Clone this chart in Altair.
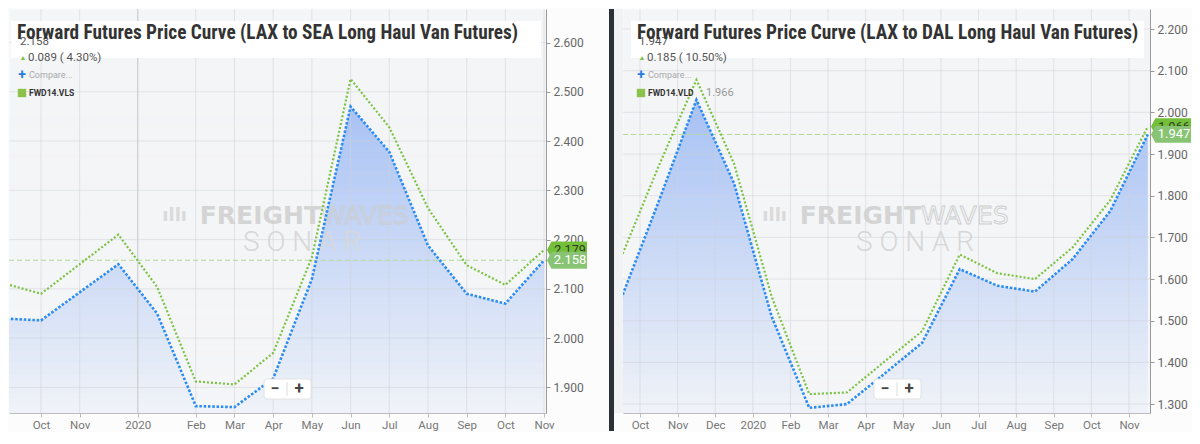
import json
import altair as alt
import pandas as pd

# ---------------- data ----------------
left_idx = [0, 1, 3, 4, 5, 6, 7, 8, 9, 10, 11, 12, 13, 14]
left_green = [2.112, 2.090, 2.210, 2.104, 1.912, 1.906, 1.970, 2.164, 2.526, 2.428, 2.264, 2.148, 2.108, 2.179]
left_blue = [2.040, 2.036, 2.150, 2.050, 1.862, 1.860, 1.918, 2.120, 2.470, 2.378, 2.188, 2.090, 2.070, 2.158]
left_tick_pos = [1, 2, 3.5, 5, 6, 7, 8, 9, 10, 11, 12, 13, 14]
left_tick_lbl = ["Oct", "Nov", "2020", "Feb", "Mar", "Apr", "May", "Jun", "Jul", "Aug", "Sep", "Oct", "Nov"]
left_y_ticks = [1.9, 2.0, 2.1, 2.2, 2.3, 2.4, 2.5, 2.6]

right_idx = [0.5, 1.5, 2.5, 3.5, 4.5, 5.5, 6.5, 7.5, 8.5, 9.5, 10.5, 11.5, 12.5, 13.5, 14.5]
right_green = [1.652, 1.872, 2.078, 1.877, 1.558, 1.324, 1.328, 1.402, 1.475, 1.659, 1.614, 1.600, 1.676, 1.789, 1.966]
right_blue = [1.553, 1.787, 2.030, 1.830, 1.510, 1.291, 1.300, 1.373, 1.447, 1.624, 1.584, 1.570, 1.648, 1.763, 1.947]
right_tick_pos = [1, 2, 3, 4, 5, 6, 7, 8, 9, 10, 11, 12, 13, 14]
right_tick_lbl = ["Oct", "Nov", "Dec", "2020", "Feb", "Mar", "Apr", "May", "Jun", "Jul", "Aug", "Sep", "Oct", "Nov"]
right_y_ticks = [1.3, 1.4, 1.5, 1.6, 1.7, 1.8, 1.9, 2.0, 2.1, 2.2]

left_title = "Forward Futures Price Curve (LAX to SEA Long Haul Van Futures)"
right_title = "Forward Futures Price Curve (LAX to DAL Long Haul Van Futures)"
left_info = {"last": "2.158", "chg": "0.089 ( 4.30%)", "sym": "FWD14.VLS", "symval": ""}
right_info = {"last": "1.947", "chg": "0.185 ( 10.50%)", "sym": "FWD14.VLD", "symval": "1.966"}

GREEN = "#7cc242"
BLUE = "#2a8cf2"
BG = "#f4f5f7"
H = 404
TITLE_FONT = "'Liberation Sans Narrow', 'Roboto Condensed', 'DejaVu Sans Condensed', Roboto"

one = pd.DataFrame({"k": [0]})


def fade_bands(ydom):
    """Background-coloured overlay strips that fade the area fill towards the bottom (styling only)."""
    lo, hi = ydom
    rows = []
    step = 6
    for py in range(84, H, step):
        mid = py + step / 2
        a = min(max((mid - 92) / 330.0, 0.0), 0.93)
        rows.append({"v": hi - py / H * (hi - lo), "v2": hi - min(py + step, H) / H * (hi - lo), "a": a})
    return pd.DataFrame(rows)


def panel(W, xdom, ydom, idx, green, blue, tpos, tlbl, yticks, title, info, off, year_rule=None, sep=False):
    lbl_expr = f"{json.dumps(tlbl)}[indexof({json.dumps(tpos)}, datum.value)]"
    X = alt.X("x:Q", scale=alt.Scale(domain=xdom, nice=False, zero=False),
              axis=alt.Axis(values=tpos, labelExpr=lbl_expr, title="", grid=False,
                            domainColor="#bdbdbd", tickColor="#bdbdbd", tickSize=4, labelColor="#777",
                            labelFontSize=11.5, labelFont="Roboto", labelPadding=2, labelFlush=False,
                            labelOverlap=False))
    Y = alt.Y("v:Q", scale=alt.Scale(domain=ydom, nice=False, zero=False),
              axis=alt.Axis(orient="right", values=yticks, format=".3f", title="", grid=False,
                            domainColor="#9a9a9a", tickColor="#9a9a9a", tickSize=4,
                            labelColor="#666", labelFontSize=12, labelFont="Roboto", labelPadding=3))
    dg = pd.DataFrame({"x": idx, "v": green})
    db = pd.DataFrame({"x": idx, "v": blue})
    layers = []
    if sep:
        layers.append(alt.Chart(one).mark_rect(color="#f1f2f3").encode(
            x=alt.value(-9), x2=alt.value(0), y=alt.value(0), y2=alt.value(H)))
        layers.append(alt.Chart(one).mark_rect(color="#2b3136").encode(
            x=alt.value(-14), x2=alt.value(-9), y=alt.value(0), y2=alt.value(H + 18)))
    # area under the blue curve, faded towards the bottom
    layers.append(alt.Chart(db).mark_area(clip=True, color="#a8c2f5", opacity=1)
                  .encode(x=X, y=Y, y2=alt.value(H)))
    layers.append(alt.Chart(fade_bands(ydom)).mark_rect(color=BG)
                  .encode(y=Y, y2=alt.Y2("v2:Q"), x=alt.value(0), x2=alt.value(W),
                          opacity=alt.Opacity("a:Q", scale=None, legend=None)))
    # grid lines
    layers.append(alt.Chart(pd.DataFrame({"x": tpos})).mark_rule(color="#cfd2d8", opacity=0.55, strokeWidth=1)
                  .encode(x=X))
    layers.append(alt.Chart(pd.DataFrame({"v": yticks})).mark_rule(color="#cfd2d8", opacity=0.5, strokeWidth=1)
                  .encode(y=Y, x=alt.value(0), x2=alt.value(W)))
    if year_rule is not None:
        layers.append(alt.Chart(pd.DataFrame({"x": [year_rule]})).mark_rule(color="#cdcdcd", strokeWidth=1)
                      .encode(x=X))
    # watermark
    wx, sx = off["wm"], off["sonar"]
    layers.append(alt.Chart(one).mark_text(text="FREIGHT", align="right", baseline="middle", font="DejaVu Sans",
                                           fontWeight="bold", fontSize=25, color="#d4d4d4")
                  .encode(x=alt.value(wx), y=alt.value(207)))
    layers.append(alt.Chart(one).mark_text(text="WAVES", align="left", baseline="middle", font="DejaVu Sans",
                                           fontSize=25, fill="rgba(0,0,0,0)", stroke="#cdcdcd", strokeWidth=0.9)
                  .encode(x=alt.value(wx), y=alt.value(207)))
    layers.append(alt.Chart(one).mark_text(text="ıllı", align="right", baseline="middle", font="DejaVu Sans",
                                           fontWeight="bold", fontSize=18, color="#dadada")
                  .encode(x=alt.value(wx - 134), y=alt.value(207)))
    layers.append(alt.Chart(one).mark_text(text="S O N A R", align="center", baseline="middle", font="Roboto",
                                           fontWeight=300, fontSize=28, color="#d7d7d7")
                  .encode(x=alt.value(sx), y=alt.value(234)))
    # reference dashed line at last value
    layers.append(alt.Chart(pd.DataFrame({"v": [blue[-1]]})).mark_rule(color="#b3db9c", strokeDash=[5, 3],
                                                                        strokeWidth=1)
                  .encode(y=Y, x=alt.value(0), x2=alt.value(W)))
    # lines
    layers.append(alt.Chart(dg).mark_line(clip=True, color=GREEN, strokeWidth=2.2, strokeDash=[2, 2])
                  .encode(x=X, y=Y))
    layers.append(alt.Chart(db).mark_line(clip=True, color=BLUE, strokeWidth=2.6, strokeDash=[2.5, 1.8])
                  .encode(x=X, y=Y))
    # end tags
    tag = "M-1,0L-0.78,-0.42L1,-0.42L1,0.42L-0.78,0.42Z"
    layers.append(alt.Chart(pd.DataFrame({"v": [green[-1]]})).mark_point(shape=tag, size=1600, filled=True,
                                                                          opacity=1, color="#74bf3a")
                  .encode(y=Y, x=alt.value(W + 21)))
    layers.append(alt.Chart(pd.DataFrame({"v": [green[-1]]})).mark_text(align="center", baseline="middle",
                                                                         fontSize=12.5, font="Roboto",
                                                                         color="#2d3a22")
                  .encode(y=Y, x=alt.value(W + 24), text=alt.Text("v:Q", format=".3f")))
    layers.append(alt.Chart(pd.DataFrame({"v": [blue[-1]]})).mark_point(shape=tag, size=1600, filled=True,
                                                                         opacity=1, color="#88c473")
                  .encode(y=Y, x=alt.value(W + 21)))
    layers.append(alt.Chart(pd.DataFrame({"v": [blue[-1]]})).mark_text(align="center", baseline="middle",
                                                                        fontSize=13, font="Roboto",
                                                                        color="white")
                  .encode(y=Y, x=alt.value(W + 24), text=alt.Text("v:Q", format=".3f")))
    # title box + title
    tb0, tb1 = off["tbox"]
    layers.append(alt.Chart(one).mark_rect(color="white").encode(
        x=alt.value(tb0), x2=alt.value(tb1), y=alt.value(12), y2=alt.value(49)))
    lx = off["leg"]
    layers.append(alt.Chart(one).mark_text(text=info["last"], align="left", baseline="middle", font="Roboto",
                                           fontSize=11.5, color="#555")
                  .encode(x=alt.value(lx), y=alt.value(33)))
    layers.append(alt.Chart(one).mark_text(text=title, align="left", baseline="alphabetic", font=TITLE_FONT,
                                           fontWeight="bold", fontSize=19.3, color="#333333")
                  .encode(x=alt.value(off["title"]), y=alt.value(29.5)))
    layers.append(alt.Chart(one).mark_text(text="▲", align="center", baseline="middle", fontSize=7,
                                           color=GREEN)
                  .encode(x=alt.value(lx + 3), y=alt.value(49)))
    layers.append(alt.Chart(one).mark_text(text=info["chg"], align="left", baseline="middle", font="Roboto",
                                           fontSize=11.5, color="#555")
                  .encode(x=alt.value(lx + 8), y=alt.value(49)))
    layers.append(alt.Chart(one).mark_text(text="+", align="center", baseline="middle", font="Roboto",
                                           fontSize=14, fontWeight="bold", color="#2a7de1")
                  .encode(x=alt.value(lx + 2), y=alt.value(66)))
    layers.append(alt.Chart(one).mark_text(text="Compare...", align="left", baseline="middle", font="Roboto",
                                           fontSize=9, color="#a8a8a8")
                  .encode(x=alt.value(lx + 9), y=alt.value(66)))
    layers.append(alt.Chart(one).mark_square(size=70, filled=True, opacity=1, color="#8bc34a")
                  .encode(x=alt.value(lx + 2), y=alt.value(84)))
    layers.append(alt.Chart(one).mark_text(text=info["sym"], align="left", baseline="middle", font="Roboto",
                                           fontSize=8.5, fontWeight="bold", color="#333")
                  .encode(x=alt.value(lx + 9), y=alt.value(84)))
    if info["symval"]:
        layers.append(alt.Chart(one).mark_text(text=info["symval"], align="left", baseline="middle",
                                               font="Roboto", fontSize=11, color="#999")
                      .encode(x=alt.value(lx + 67), y=alt.value(84)))
    # zoom widget
    zx = off["zoom"]
    layers.append(alt.Chart(one).mark_rect(color="white", stroke="#e2e2e2", cornerRadius=3).encode(
        x=alt.value(zx), x2=alt.value(zx + 47), y=alt.value(370), y2=alt.value(390)))
    layers.append(alt.Chart(one).mark_rule(color="#dddddd").encode(
        x=alt.value(zx + 23), y=alt.value(373), y2=alt.value(387)))
    layers.append(alt.Chart(one).mark_text(text="−", align="center", baseline="middle", font="Roboto",
                                           fontSize=16, fontWeight="bold", color="#444")
                  .encode(x=alt.value(zx + 11), y=alt.value(380)))
    layers.append(alt.Chart(one).mark_text(text="+", align="center", baseline="middle", font="Roboto",
                                           fontSize=17, fontWeight="bold", color="#444")
                  .encode(x=alt.value(zx + 35), y=alt.value(380)))
    return alt.layer(*layers).properties(width=W, height=H)


left = panel(537, [0.173, 14.05], [1.848, 2.668], left_idx, left_green, left_blue,
             left_tick_pos, left_tick_lbl, left_y_ticks, left_title, left_info,
             {"wm": 312, "sonar": 293, "tbox": (2, 532), "leg": 11, "title": 8, "zoom": 255},
             year_rule=3.5)
right = panel(527, [0.548, 14.558], [1.2787, 2.248], right_idx, right_green, right_blue,
              right_tick_pos, right_tick_lbl, right_y_ticks, right_title, right_info,
              {"wm": 298, "sonar": 292, "tbox": (8, 521), "leg": 16, "title": 14, "zoom": 251},
              sep=True)

chart = alt.hconcat(left, right, spacing=77, bounds="flush", padding=0,
                    background="#fcfcfc").configure_view(fill=BG, stroke="transparent")

chart.save("out.html", embed_options={"renderer": "svg", "actions": False})
